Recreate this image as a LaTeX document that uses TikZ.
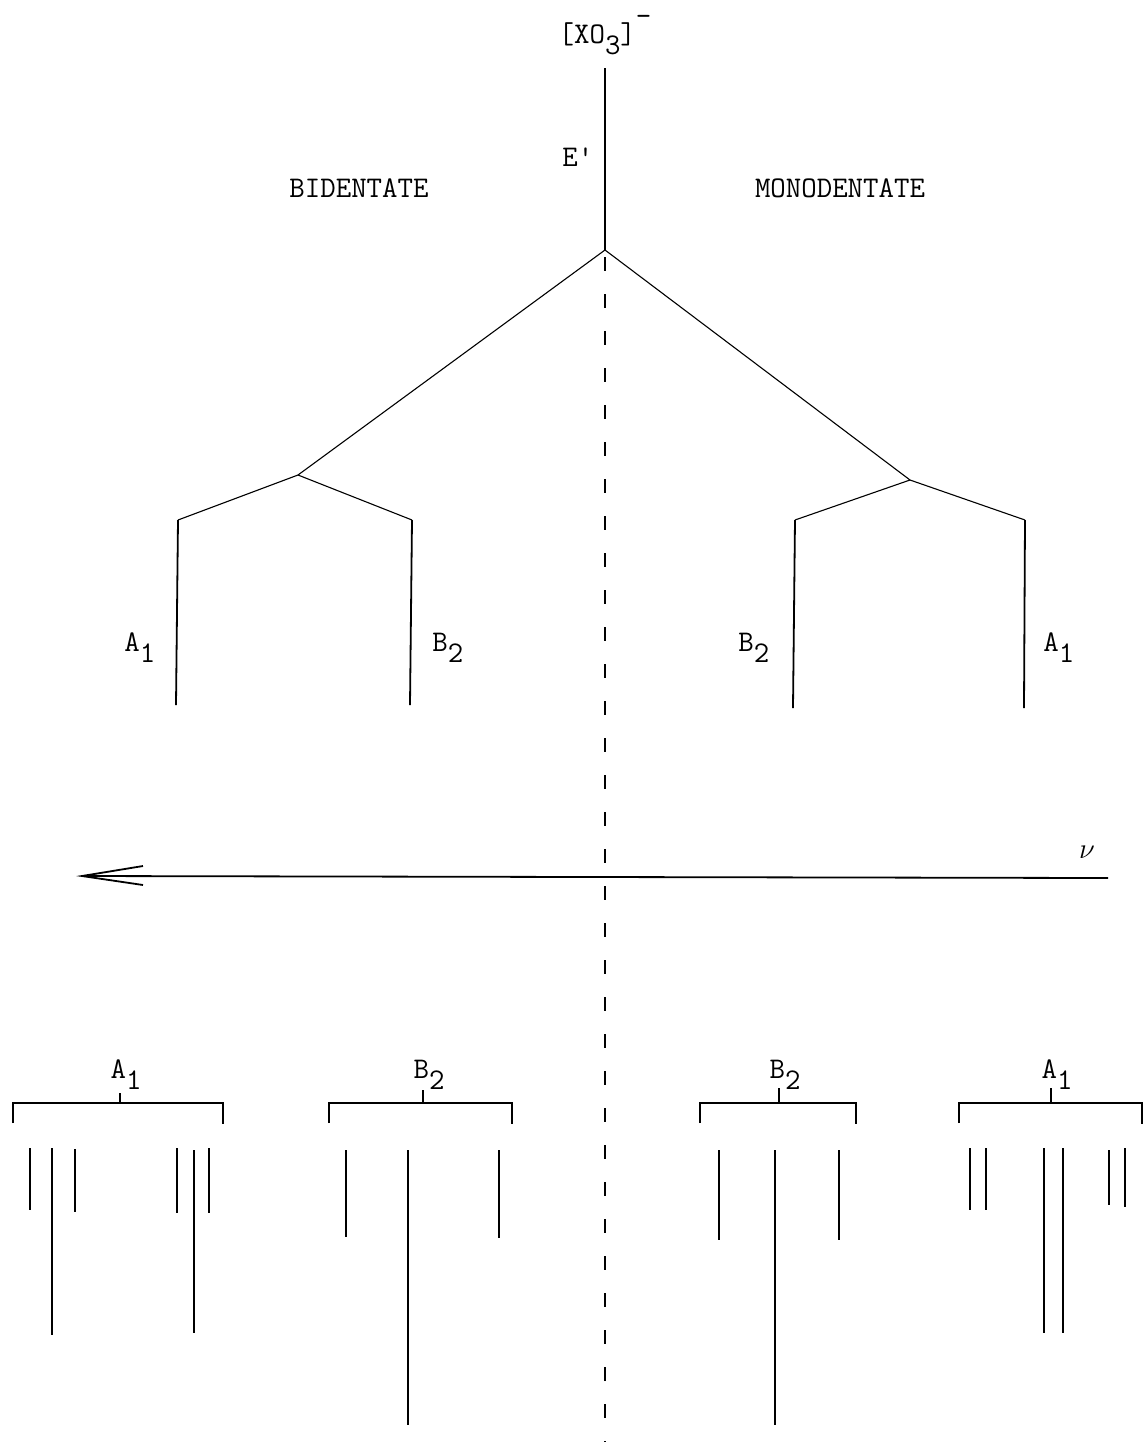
\documentclass[tikz,border=0pt]{standalone}
\usetikzlibrary{arrows.meta}
\newcommand{\lowered}[1]{\raisebox{-5.5pt}{#1}}
\begin{document}
\begin{tikzpicture}[x=0.5pt,y=-0.5pt,
  lbl/.style={inner sep=0pt,font=\fontsize{15}{18}\selectfont\ttfamily},
  ln/.style={line width=0.9pt},
  thin/.style={line width=0.55pt},
  dsh/.style={line width=0.9pt,dash pattern=on 7pt off 11.5pt}]
\useasboundingbox[fill=white] (0,0) rectangle (1144,1442);
% top label
\node[lbl,anchor=base] (top) at (605,43) {[XO\lowered{3}]\raisebox{9pt}{-}};
\coordinate (t0) at (605,68);
\coordinate (apex) at (605,250);
\draw[ln] (t0) -- (apex);
\node[lbl,anchor=base west] (E) at (562,166) {E'};
\node[lbl,anchor=base] (bid) at (359,197) {BIDENTATE};
\node[lbl,anchor=base] (mono) at (840,197) {MONODENTATE};
% branches
\coordinate (L) at (298,475);
\coordinate (R) at (910,480);
\draw[thin] (apex) -- (L);
\draw[thin] (apex) -- (R);
\coordinate (La) at (178,520); \coordinate (Lab) at (176,705);
\coordinate (Lb) at (412,520); \coordinate (Lbb) at (410,705);
\coordinate (Ra) at (795,520); \coordinate (Rab) at (793,708);
\coordinate (Rb) at (1025,520); \coordinate (Rbb) at (1024,708);
\draw[thin] (L) -- (La); \draw[ln] (La) -- (Lab);
\draw[thin] (L) -- (Lb); \draw[ln] (Lb) -- (Lbb);
\draw[thin] (R) -- (Ra); \draw[ln] (Ra) -- (Rab);
\draw[thin] (R) -- (Rb); \draw[ln] (Rb) -- (Rbb);
\node[lbl,anchor=base west] (la1) at (124,651) {A\lowered{1}};
\node[lbl,anchor=base west] (lb2) at (432,651) {B\lowered{2}};
\node[lbl,anchor=base west] (rb2) at (738,651) {B\lowered{2}};
\node[lbl,anchor=base west] (ra1) at (1043,651) {A\lowered{1}};
% dashed centre line
\coordinate (dbot) at (605,1442);
\draw[dsh] ([yshift=-3.5pt]apex) -- (dbot);
% frequency arrow
\coordinate (ar) at (1108,878);
\coordinate (al) at (82,876);
\draw[ln] (ar) -- (al);
\draw[ln] (143,866) -- (al) -- (143,885);
\node[lbl,anchor=base] (nu) at (1087,858) {$\nu$};
% brackets
\foreach \l/\r/\m/\t/\lab/\nm in {13/223/120/1093/A\lowered{1}/ba, 329/512/423/1090/B\lowered{2}/bb, 700/856/779/1088/B\lowered{2}/bc, 959/1142/1051/1088/A\lowered{1}/bd}{
  \draw[ln] (\l,1123) -- (\l,1103) -- (\r,1103) -- (\r,1124);
  \draw[ln] (\m,1103) -- (\m,\t);
  \node[lbl,anchor=base] (\nm) at (\m+6,1078) {\lab};
}
% spectral lines
\foreach \x/\a/\b in {30/1148/1210, 52/1148/1335, 75/1149/1212, 177/1148/1213, 194/1150/1333, 209/1148/1213,
  346/1150/1237, 408/1150/1425, 499/1150/1238,
  719/1150/1240, 775/1150/1425, 839/1150/1240,
  970/1148/1210, 986/1148/1210, 1044/1148/1333, 1063/1148/1333, 1109/1150/1205, 1125/1148/1207}{
  \draw[ln] (\x,\a) -- (\x,\b);
}
\end{tikzpicture}
\end{document}
